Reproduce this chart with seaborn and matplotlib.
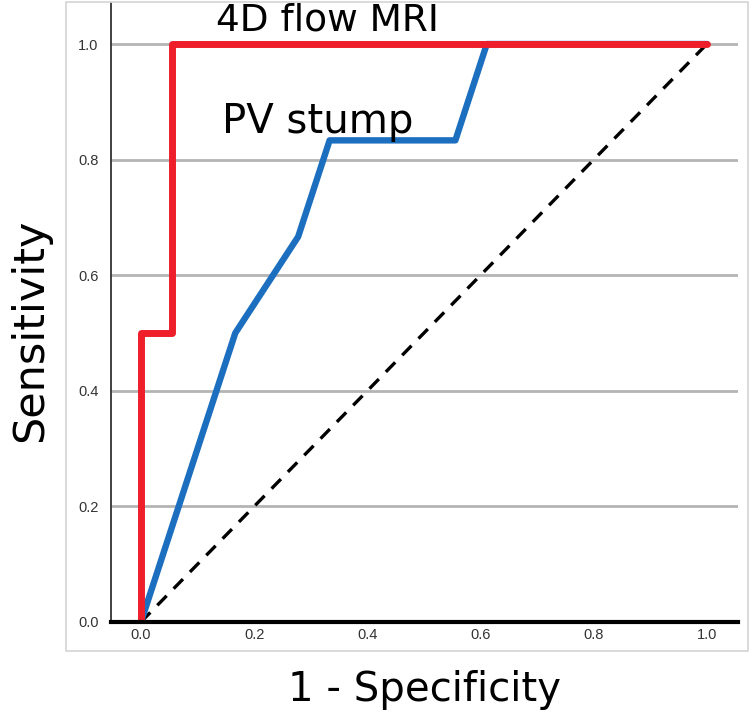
import numpy as np
import pandas as pd
import seaborn as sns
import matplotlib
matplotlib.use("Agg")
import matplotlib.pyplot as plt
from matplotlib.patches import Rectangle

# ROC data (1 - specificity, sensitivity)
mri_fpr = [0.0, 0.0, 1/18, 1/18, 1.0]
mri_tpr = [0.0, 0.5, 0.5, 1.0, 1.0]
pv_fpr = [0.0, 3/18, 5/18, 6/18, 10/18, 11/18, 1.0]
pv_tpr = [0.0, 0.5, 4/6, 5/6, 5/6, 1.0, 1.0]
ref_fpr = [0.0, 1.0]
ref_tpr = [0.0, 1.0]
x_ticks = [0.0, 0.2, 0.4, 0.6, 0.8, 1.0]
y_ticks = [0.0, 0.2, 0.4, 0.6, 0.8, 1.0]
series_names = ["4D flow MRI", "PV stump"]

sns.set_theme(style="white")
plt.rcParams['font.family'] = ['DejaVu Sans']

fig = plt.figure(figsize=(7.55, 7.16), dpi=100)
ax = fig.add_axes([0.147, 0.1313, 0.8305, 0.8645])

# outer frame
fig.patches.append(Rectangle((0.0874, 0.0908), 0.903, 0.906, transform=fig.transFigure,
                             fill=False, edgecolor="#d4d4d4", linewidth=1.2, zorder=0))

for yv in y_ticks[1:]:
    ax.axhline(yv, color="#b4b4b4", linewidth=2.0, zorder=0)

df_ref = pd.DataFrame({"x": ref_fpr, "y": ref_tpr})
sns.lineplot(data=df_ref, x="x", y="y", ax=ax, color="black", linewidth=2.4,
             linestyle=(0, (4, 3)), sort=False, estimator=None, zorder=2)

df_pv = pd.DataFrame({"x": pv_fpr, "y": pv_tpr})
sns.lineplot(data=df_pv, x="x", y="y", ax=ax, color="#1c6fbf", linewidth=4.6,
             sort=False, estimator=None, zorder=3)

df_mri = pd.DataFrame({"x": mri_fpr, "y": mri_tpr})
sns.lineplot(data=df_mri, x="x", y="y", ax=ax, color="#ee1f2b", linewidth=5.0,
             sort=False, estimator=None, zorder=4)

ax.set_xlim(-0.053, 1.055)
ax.set_ylim(0.0, 1.071)
ax.set_xticks(x_ticks)
ax.set_yticks(y_ticks)
ax.set_xticklabels([f"{v:.1f}" for v in x_ticks], fontsize=10.5, color="#333333",
                   family=['Liberation Sans'])
ax.set_yticklabels([f"{v:.1f}" for v in y_ticks], fontsize=10.5, color="#333333",
                   family=['Liberation Sans'])
ax.tick_params(axis="x", length=0, pad=4)
ax.tick_params(axis="y", length=0, pad=9)

for s in ["top", "right"]:
    ax.spines[s].set_visible(False)
ax.spines["left"].set_color("#333333")
ax.spines["left"].set_linewidth(1.3)
ax.spines["bottom"].set_color("black")
ax.spines["bottom"].set_linewidth(3.0)
ax.spines["bottom"].set_zorder(5)

ax.set_xlabel("1 - Specificity", fontsize=29, color="black")
ax.set_ylabel("Sensitivity", fontsize=31, color="black")
ax.xaxis.set_label_coords(0.5, -0.11)
ax.yaxis.set_label_coords(-0.129, 0.472)
ax.xaxis.label.set_va("center")
ax.yaxis.label.set_va("center")

ax.text(0.132, 1.04, series_names[0], fontsize=27, color="black", ha="left", va="center")
ax.text(0.143, 0.865, series_names[1], fontsize=29, color="black", ha="left", va="center")

fig.savefig("out.png", dpi=100)
